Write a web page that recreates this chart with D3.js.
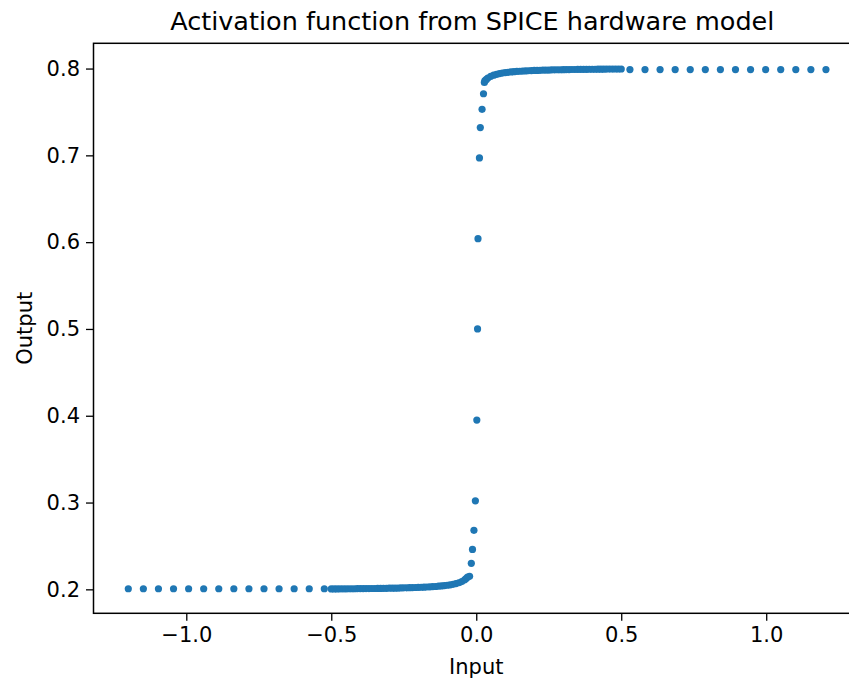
<!DOCTYPE html>
<html>
<head>
<meta charset="utf-8">
<script src="https://cdn.jsdelivr.net/npm/d3@7"></script>
<style>
  body { margin: 0; background: #fff; }
  svg { display: block; font-family: "DejaVu Sans", sans-serif; }
</style>
</head>
<body>
<svg id="chart" width="849" height="682"></svg>
<script>
// Sparse samples on the left tail
const sparseLeftX = [-1.2, -1.148, -1.096, -1.044, -0.992, -0.94, -0.888, -0.836, -0.784, -0.732, -0.68, -0.628, -0.576, -0.524];
const sparseLeftY = [0.2007, 0.2007, 0.2007, 0.2007, 0.2007, 0.2007, 0.2007, 0.2007, 0.2007, 0.2007, 0.2007, 0.2007, 0.2007, 0.2007];

// Dense samples, lower plateau
const denseLeftX = [-0.5, -0.49, -0.48, -0.47, -0.46, -0.45, -0.44, -0.43, -0.42, -0.41, -0.4, -0.39, -0.38, -0.37, -0.36, -0.35,
  -0.34, -0.33, -0.32, -0.31, -0.3, -0.29, -0.28, -0.27, -0.26, -0.25, -0.24, -0.23, -0.22, -0.21, -0.2, -0.19, -0.18,
  -0.17, -0.16, -0.15, -0.14, -0.13, -0.12, -0.11, -0.1, -0.09, -0.08, -0.07, -0.06, -0.05, -0.04, -0.035, -0.03];
const denseLeftY = [0.2005, 0.2005, 0.2005, 0.2006, 0.2006, 0.2006, 0.2007, 0.2007, 0.2007, 0.2008, 0.2008, 0.2008, 0.2009, 0.2009, 0.2010, 0.2010,
  0.2011, 0.2011, 0.2012, 0.2012, 0.2013, 0.2014, 0.2014, 0.2015, 0.2016, 0.2017, 0.2018, 0.2019, 0.2020, 0.2021, 0.2022, 0.2024, 0.2025,
  0.2027, 0.2029, 0.2031, 0.2033, 0.2036, 0.2039, 0.2043, 0.2047, 0.2052, 0.2058, 0.2066, 0.2076, 0.2090, 0.2110, 0.2125, 0.2140];

// Transition region around zero
const steepX = [-0.023, -0.017, -0.013, -0.008, -0.003, 0.002, 0.0045, 0.006, 0.011, 0.014, 0.02, 0.025, 0.028];
const steepY = [0.215, 0.230, 0.246, 0.268, 0.302, 0.395, 0.5, 0.604, 0.697, 0.732, 0.753, 0.771, 0.784];

// Dense samples, upper plateau
const denseRightX = [0.03, 0.035, 0.04, 0.05, 0.06, 0.07, 0.08, 0.09, 0.1, 0.11, 0.12, 0.13, 0.14, 0.15, 0.16, 0.17, 0.18,
  0.19, 0.2, 0.21, 0.22, 0.23, 0.24, 0.25, 0.26, 0.27, 0.28, 0.29, 0.3, 0.31, 0.32, 0.33, 0.34, 0.35, 0.36, 0.37, 0.38,
  0.39, 0.4, 0.41, 0.42, 0.43, 0.44, 0.45, 0.46, 0.47, 0.48, 0.49, 0.5];
const denseRightY = [0.786, 0.7875, 0.789, 0.791, 0.7924, 0.7934, 0.7942, 0.7948, 0.7953, 0.7957, 0.7961, 0.7964, 0.7967, 0.7969, 0.7971, 0.7973, 0.7975,
  0.7976, 0.7978, 0.7979, 0.7980, 0.7981, 0.7982, 0.7983, 0.7984, 0.7985, 0.7986, 0.7986, 0.7987, 0.7988, 0.7988, 0.7989, 0.7989, 0.7990, 0.7990, 0.7991, 0.7991,
  0.7992, 0.7992, 0.7992, 0.7993, 0.7993, 0.7993, 0.7994, 0.7994, 0.7994, 0.7995, 0.7995, 0.7995];

// Sparse samples on the right tail
const sparseRightX = [0.53, 0.582, 0.634, 0.686, 0.738, 0.79, 0.842, 0.894, 0.946, 0.998, 1.05, 1.102, 1.154, 1.206];
const sparseRightY = [0.7988, 0.7988, 0.7988, 0.7988, 0.7988, 0.7988, 0.7988, 0.7988, 0.7988, 0.7988, 0.7988, 0.7988, 0.7988, 0.7988];

const xTicks = [-1.0, -0.5, 0.0, 0.5, 1.0];
const yTicks = [0.2, 0.3, 0.4, 0.5, 0.6, 0.7, 0.8];

const xs = [].concat(sparseLeftX, denseLeftX, steepX, denseRightX, sparseRightX);
const ys = [].concat(sparseLeftY, denseLeftY, steepY, denseRightY, sparseRightY);
const points = xs.map((x, i) => ({x: x, y: ys[i]}));

const plotLeft = 93.5, plotRight = 859, plotTop = 43.3, plotBottom = 613.3;

const svg = d3.select("#chart");

var x = d3.scaleLinear().domain([-1.32, 1.32]).range([plotLeft, plotRight]);
var y = d3.scaleLinear().domain([0.1724, 0.8291]).range([plotBottom, plotTop]);

// points
svg.append("g")
    .selectAll("circle")
    .data(points)
    .enter().append("circle")
    .attr("cx", d => x(d.x))
    .attr("cy", d => y(d.y))
    .attr("r", 3.6)
    .attr("fill", "#1f77b4");

// axes
var xAxis = svg.append("g")
    .attr("transform", `translate(0,${plotBottom})`)
    .call(d3.axisBottom(x).tickValues(xTicks).tickFormat(d3.format(".1f"))
        .tickSize(7.5).tickPadding(6).tickSizeOuter(0));

var yAxis = svg.append("g")
    .attr("transform", `translate(${plotLeft},0)`)
    .call(d3.axisLeft(y).tickValues(yTicks).tickFormat(d3.format(".1f"))
        .tickSize(7.5).tickPadding(6).tickSizeOuter(0));

[xAxis, yAxis].forEach(a => {
    a.select(".domain").remove();
    a.selectAll("line").attr("stroke", "#000").attr("stroke-width", 1.3);
    a.selectAll("text").attr("font-size", 21).attr("fill", "#000")
        .attr("font-family", "DejaVu Sans");
});

// frame
svg.append("rect")
    .attr("x", plotLeft)
    .attr("y", plotTop)
    .attr("width", plotRight - plotLeft)
    .attr("height", plotBottom - plotTop)
    .attr("fill", "none")
    .attr("stroke", "#000")
    .attr("stroke-width", 1.5);

// title and labels
svg.append("text")
    .attr("x", (plotLeft + plotRight) / 2 - 4)
    .attr("y", 30)
    .attr("text-anchor", "middle")
    .attr("font-size", 25.5)
    .text("Activation function from SPICE hardware model");

svg.append("text")
    .attr("x", (plotLeft + plotRight) / 2)
    .attr("y", 674)
    .attr("text-anchor", "middle")
    .attr("font-size", 21)
    .text("Input");

svg.append("text")
    .attr("transform", `translate(32,${(plotTop + plotBottom) / 2}) rotate(-90)`)
    .attr("text-anchor", "middle")
    .attr("font-size", 21)
    .text("Output");
</script>
</body>
</html>
